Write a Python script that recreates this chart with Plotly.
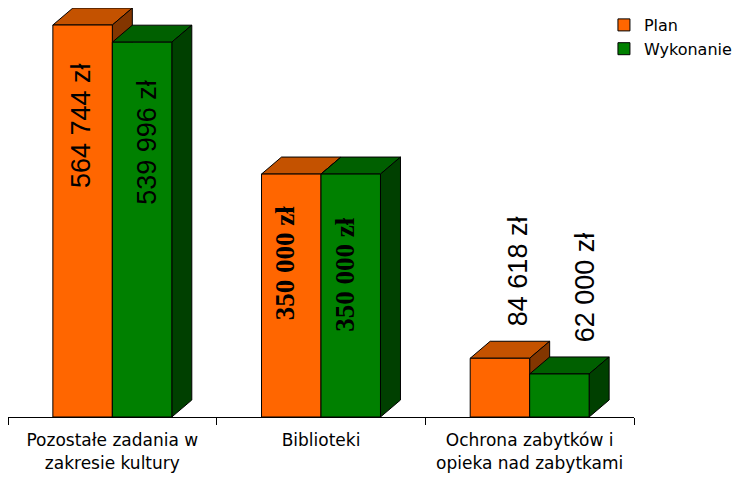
import plotly.graph_objects as go

categories = ["Pozostałe zadania w<br>zakresie kultury", "Biblioteki",
              "Ochrona zabytków i<br>opieka nad zabytkami"]
plan = [564744, 350000, 84618]
wykonanie = [539996, 350000, 62000]
series_names = ["Plan", "Wykonanie"]

front_colors = ["#FF6600", "#008000"]
top_colors = ["#C45200", "#006000"]
side_colors = ["#833600", "#004000"]

# page is offset by the 8px body margin of the browser
W, H = 745, 481
ml, mr, mt, mb = 0, 119, 0, 72
plot_w = W - ml - mr
plot_h = H - mt - mb
ymax = max(plan) * 409 / 392
bargap = 0.43
bw = (1 - bargap) / 2
cat_px = plot_w / len(categories)
dx = 20 / cat_px
dy = 17 * ymax / plot_h


def fmt(v):
    return f"{v:,}".replace(",", " ") + " zł"


fig = go.Figure()
for s, (name, vals) in enumerate(zip(series_names, [plan, wykonanie])):
    fig.add_trace(go.Bar(
        x=categories, y=vals, name=name,
        marker=dict(color=front_colors[s], line=dict(color="black", width=1)),
        hoverinfo="skip",
    ))

shapes = []
annotations = []
for s, vals in enumerate([plan, wykonanie]):
    for i, v in enumerate(vals):
        x0 = i - bw + s * bw
        x1 = x0 + bw
        top = f"M {x0},{v} L {x1},{v} L {x1+dx},{v+dy} L {x0+dx},{v+dy} Z"
        side = f"M {x1},0 L {x1},{v} L {x1+dx},{v+dy} L {x1+dx},{dy} Z"
        shapes.append(dict(type="path", path=top, xref="x", yref="y", layer="below",
                           fillcolor=top_colors[s], line=dict(color="black", width=1)))
        shapes.append(dict(type="path", path=side, xref="x", yref="y", layer="below",
                           fillcolor=side_colors[s], line=dict(color="black", width=1)))
        inside = v > ymax * 0.3
        if i == 1:
            font = dict(family="Liberation Serif, Tinos, Times New Roman, serif",
                        size=27, color="black", weight="bold")
        else:
            font = dict(family="Liberation Sans, Arimo, Arial, sans-serif",
                        size=27, color="black")
        if inside:
            xs = -2 if i == 0 else -6
            if i == 0 and s == 1:
                xs = 5
            ys = -36 if i == 0 else (-30 if s == 0 else -42)
            annotations.append(dict(x=(x0 + x1) / 2, y=v, xref="x", yref="y", text=fmt(v),
                                    textangle=-90, showarrow=False, yanchor="top",
                                    yshift=ys, xshift=xs, font=font))
        else:
            annotations.append(dict(x=(x0 + x1) / 2, y=v, xref="x", yref="y", text=fmt(v),
                                    textangle=-90, showarrow=False, yanchor="bottom",
                                    yshift=30, xshift=18 + 8 * s, font=font))

fig.update_layout(
    width=W, height=H,
    margin=dict(l=ml, r=mr, t=mt, b=mb, autoexpand=False),
    paper_bgcolor="white", plot_bgcolor="white",
    barmode="group", bargap=bargap, bargroupgap=0,
    shapes=shapes, annotations=annotations,
    showlegend=True,
    legend=dict(x=0.952, y=1.0, xanchor="left", yanchor="top",
                font=dict(family="DejaVu Sans", size=16, color="black"),
                bgcolor="rgba(0,0,0,0)", tracegroupgap=0),
    font=dict(family="DejaVu Sans", color="black"),
)
fig.update_xaxes(showline=True, linecolor="black", linewidth=1, ticks="outside",
                 tickson="boundaries", ticklen=7, tickcolor="black",
                 ticklabelstandoff=8,
                 tickfont=dict(family="DejaVu Sans", size=17, color="black"),
                 showgrid=False, fixedrange=True)
fig.update_yaxes(visible=False, range=[0, ymax], showgrid=False, fixedrange=True)

fig.write_html("out.html")
